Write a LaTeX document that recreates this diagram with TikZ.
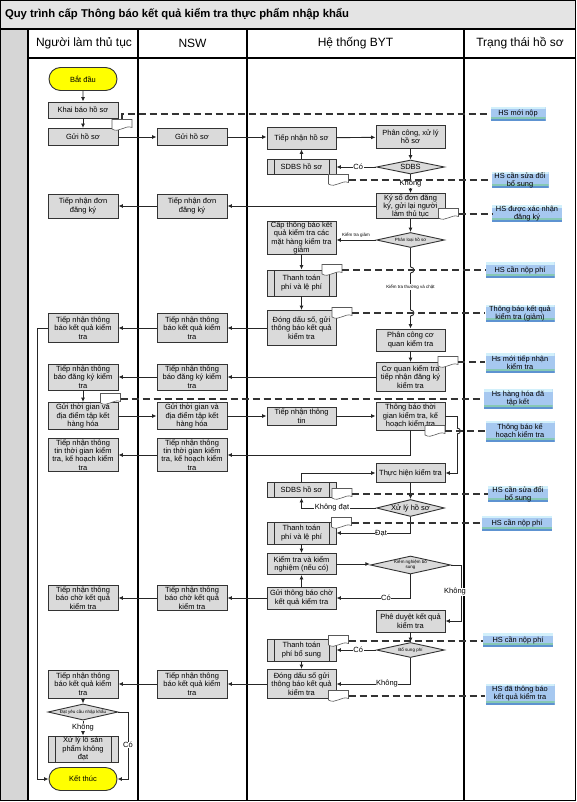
\documentclass[tikz,border=0pt]{standalone}
\usepackage{fontspec}
\setmainfont{Liberation Sans}
\usetikzlibrary{arrows.meta,shapes.geometric,shapes.misc}
\definecolor{boxgray}{HTML}{DADADA}
\definecolor{titlegray}{HTML}{E4E4E4}
\definecolor{stripgray}{HTML}{D6D6D6}
\definecolor{statblue}{HTML}{A6C8F0}
\definecolor{statlight}{HTML}{D2F0FB}
\definecolor{statteal}{HTML}{86C8B4}
\definecolor{statdark}{HTML}{5E93D1}
\definecolor{termyellow}{HTML}{FFFF00}
\newcommand\docicon[2]{%
  \node[docn] (#1) at (#2) {};
  \draw[docline] (#1.north west) -- (#1.north east) -- ([yshift=3pt]#1.south east)
    .. controls ([xshift=-7pt,yshift=6pt]#1.south east) and ([xshift=7pt,yshift=-3pt]#1.south west) .. ([yshift=1.5pt]#1.south west) -- cycle;}
\newcommand\hopv[2]{%
  \fill[white] ({#1-1.5},{#2-3}) rectangle ({#1+1.5},{#2+3});
  \draw[conn] (#1,{#2-3}) .. controls ({#1+4.5},{#2-3}) and ({#1+4.5},{#2+3}) .. (#1,{#2+3});}
\begin{document}
\begin{tikzpicture}[x=1pt,y=-1pt,
  font=\fontsize{7.5}{8.3}\selectfont,
  frame/.style={draw=black, line width=1.1pt},
  box/.style={draw=black!80, fill=boxgray, line width=0.9pt, minimum width=70pt, align=center, inner sep=0.5pt},
  bbox/.style={box, minimum width=69pt},
  pbox/.style={bbox, path picture={
     \draw[black!80, line width=0.9pt]
       ([xshift=7pt]path picture bounding box.north west) -- ([xshift=7pt]path picture bounding box.south west)
       ([xshift=-7pt]path picture bounding box.north east) -- ([xshift=-7pt]path picture bounding box.south east);}},
  dia/.style={diamond, aspect=4, draw=black!80, fill=boxgray, line width=0.9pt, inner sep=0pt, minimum width=68pt, align=center},
  term/.style={rounded rectangle, draw=black!80, fill=termyellow, line width=0.9pt, minimum width=70pt, minimum height=23pt, inner sep=1pt},
  conn/.style={draw=black!85, line width=0.9pt},
  arr/.style={conn, -{Latex[length=4.5pt,width=4pt]}},
  dsh/.style={draw=black!80, line width=1.1pt, dash pattern=on 7pt off 4pt},
  docn/.style={minimum width=20pt, minimum height=11pt, inner sep=0pt, outer sep=0pt},
  docline/.style={draw=black!65, fill=white, line width=0.6pt},
  stat/.style={fill=statblue, inner sep=0pt, align=center, font=\fontsize{7.4}{8}\selectfont,
     path picture={
       \fill[statlight] (path picture bounding box.north west) rectangle ([yshift=-2.5pt]path picture bounding box.north east);
       \fill[statteal] ([yshift=2pt]path picture bounding box.south west) rectangle ([yshift=4pt]path picture bounding box.south east);
       \fill[statdark] (path picture bounding box.south west) rectangle ([yshift=2pt]path picture bounding box.south east);}},
  lab/.style={fill=white, inner sep=0.5pt, font=\fontsize{7.5}{8}\selectfont},
  slab/.style={inner sep=0.5pt, font=\fontsize{4.5}{5}\selectfont},
  hdr/.style={font=\fontsize{12}{13}\selectfont}
]
\useasboundingbox (0,0) rectangle (576,802);
% ---------- frame ----------
\fill[titlegray] (0,0) rectangle (576,29);
\fill[stripgray] (0,29) rectangle (28,801);
\draw[frame] (0.6,0.6) rectangle (575.4,800.8);
\draw[frame] (0,29) -- (576,29);
\draw[frame] (28,58) -- (576,58);
\foreach \x in {28,138,247,464} \draw[frame] (\x,29) -- (\x,801);
\node[anchor=west, font=\bfseries\fontsize{11.3}{13}\selectfont] (title) at (1.5,14.5) {Quy trình cấp Thông báo kết quả kiểm tra thực phẩm nhập khẩu};
\node[hdr] (h1) at (84,43.5) {Người làm thủ tục};
\node[hdr] (h2) at (192.5,43.5) {NSW};
\node[hdr] (h3) at (355.5,43.5) {Hệ thống BYT};
\node[hdr] (h4) at (520,43.5) {Trạng thái hồ sơ};
% ---------- lane 1 ----------
\node[term] (start) at (83,79) {Bắt đầu};
\node[box, minimum height=16pt] (kb) at (83,110) {Khai báo hồ sơ};
\node[box, minimum height=17pt] (g1) at (83,137) {Gửi hồ sơ};
\node[box, minimum height=24pt] (t1) at (83,206) {Tiếp nhận đơn\\đăng ký};
\node[box, minimum height=29pt] (r1) at (83,328) {Tiếp nhận thông\\báo kết quả kiểm\\tra};
\node[box, minimum height=26pt] (dk1) at (83,377) {Tiếp nhận thông\\báo đăng ký kiểm\\tra};
\node[box, minimum height=27pt] (gt1) at (83,416) {Gửi thời gian và\\địa điểm tập kết\\hàng hóa};
\node[box, minimum height=33pt] (tt1) at (83,455) {Tiếp nhận thông\\tin thời gian kiểm\\tra, kế hoạch kiểm\\tra};
\node[box, minimum height=25pt] (c1) at (83,598) {Tiếp nhận thông\\báo chờ kết quả\\kiểm tra};
\node[box, minimum height=28pt] (k1) at (83,684) {Tiếp nhận thông\\báo kết quả kiểm\\tra};
\node[dia, minimum width=70pt, minimum height=14pt, font=\fontsize{4.5}{5}\selectfont] (dy) at (83,712) {Đạt yêu cầu nhập khẩu};
\node[pbox, minimum width=70pt, minimum height=26pt] (xl) at (83,749) {Xử lý lô sản\\phẩm không\\đạt};
\node[term] (end) at (83,779) {Kết thúc};
% ---------- lane 2 ----------
\node[box, minimum height=17pt] (g2) at (192,137) {Gửi hồ sơ};
\node[box, minimum height=24pt] (t2) at (192,206) {Tiếp nhận đơn\\đăng ký};
\node[box, minimum height=29pt] (r2) at (192,328) {Tiếp nhận thông\\báo kết quả kiểm\\tra};
\node[box, minimum height=26pt] (dk2) at (192,377) {Tiếp nhận thông\\báo đăng ký kiểm\\tra};
\node[box, minimum height=27pt] (gt2) at (192,416) {Gửi thời gian và\\địa điểm tập kết\\hàng hóa};
\node[box, minimum height=33pt] (tt2) at (192,455) {Tiếp nhận thông\\tin thời gian kiểm\\tra, kế hoạch kiểm\\tra};
\node[box, minimum height=25pt] (c2) at (192,598) {Tiếp nhận thông\\báo chờ kết quả\\kiểm tra};
\node[box, minimum height=28pt] (k2) at (192,684) {Tiếp nhận thông\\báo kết quả kiểm\\tra};
% ---------- lane 3 left ----------
\node[bbox, minimum height=22pt] (tn) at (301.5,138) {Tiếp nhận hồ sơ};
\node[pbox, minimum height=15pt] (sd1) at (301.5,167) {SDBS hồ sơ};
\node[bbox, minimum height=33pt] (cap) at (301.5,238) {Cấp thông báo kết\\quả kiểm tra các\\mặt hàng kiểm tra\\giảm};
\node[pbox, minimum height=26pt] (tp1) at (301.5,283) {Thanh toán\\phí và lệ phí};
\node[bbox, minimum height=35pt] (dd1) at (301.5,328) {Đóng dấu số, gửi\\thông báo kết quả\\kiểm tra};
\node[bbox, minimum height=18pt] (ti) at (301.5,416) {Tiếp nhận thông\\tin};
\node[pbox, minimum height=15pt] (sd2) at (301.5,490) {SDBS hồ sơ};
\node[pbox, minimum height=22pt] (tp2) at (301.5,533) {Thanh toán\\phí và lệ phí};
\node[bbox, minimum height=21pt] (kn) at (301.5,564) {Kiểm tra và kiểm\\nghiệm (nếu có)};
\node[bbox, minimum height=22pt] (gc) at (301.5,598) {Gửi thông báo chờ\\kết quả kiểm tra};
\node[pbox, minimum height=22pt] (tp3) at (301.5,650) {Thanh toán\\phí bổ sung};
\node[bbox, minimum height=29pt] (dd2) at (301.5,684) {Đóng dấu số gửi\\thông báo kết quả\\kiểm tra};
% ---------- lane 3 right ----------
\node[bbox, minimum height=23pt] (pc) at (410.5,137) {Phân công, xử lý\\hồ sơ};
\node[dia, minimum height=14pt] (sdbs) at (410.5,167) {SDBS};
\node[bbox, minimum height=25pt] (ks) at (410.5,206) {Ký số đơn đăng\\ký, gửi lại người\\làm thủ tục};
\node[dia, minimum height=15pt, font=\fontsize{4.5}{5}\selectfont] (pl) at (410.5,240) {Phân loại hồ sơ};
\node[bbox, minimum height=22pt] (pcq) at (410.5,340) {Phân công cơ\\quan kiểm tra};
\node[bbox, minimum height=29pt] (cq) at (410.5,377) {Cơ quan kiểm tra\\tiếp nhận đăng ký\\kiểm tra};
\node[bbox, minimum height=28pt] (tb) at (410.5,416) {Thông báo thời\\gian kiểm tra, kế\\hoạch kiểm tra};
\node[bbox, minimum height=19pt] (th) at (410.5,473) {Thực hiện kiểm tra};
\node[dia, minimum height=17pt] (xh) at (410.5,508) {Xử lý hồ sơ};
\node[dia, minimum height=18pt, aspect=5, font=\fontsize{4.5}{5}\selectfont] (kb2) at (410.5,565) {Kiểm nghiệm bổ\\sung};
\node[bbox, minimum height=22pt] (pd) at (410.5,621) {Phê duyệt kết quả\\kiểm tra};
\node[dia, minimum height=15pt, font=\fontsize{4.5}{5}\selectfont] (bs) at (410.5,650) {Bổ sung phí};
% ---------- status ----------
\node[stat, minimum width=55pt, minimum height=14pt] (s1) at (518,114) {HS mới nộp};
\node[stat, minimum width=57pt, minimum height=16pt] (s2) at (520,180) {HS cần sửa đổi\\bổ sung};
\node[stat, minimum width=70pt, minimum height=17pt] (s3) at (527,214) {HS được xác nhận\\đăng ký};
\node[stat, minimum width=69pt, minimum height=16pt] (s4) at (520,270) {HS cần nộp phí};
\node[stat, minimum width=69pt, minimum height=17pt] (s5) at (520,313) {Thông báo kết quả\\kiểm tra (giảm)};
\node[stat, minimum width=69pt, minimum height=20pt] (s6) at (520,363) {Hs mới tiếp nhận\\kiểm tra};
\node[stat, minimum width=69pt, minimum height=20pt] (s7) at (518,399) {Hs hàng hóa đã\\tập kết};
\node[stat, minimum width=69pt, minimum height=21pt] (s8) at (520,431) {Thông báo kế\\hoạch kiểm tra};
\node[stat, minimum width=60pt, minimum height=15pt] (s9) at (518,494) {HS cần sửa đổi\\bổ sung};
\node[stat, minimum width=70pt, minimum height=15pt] (s10) at (517,523) {HS cần nộp phí};
\node[stat, minimum width=70pt, minimum height=14pt] (s11) at (518,640) {HS cần nộp phí};
\node[stat, minimum width=69pt, minimum height=21pt] (s12) at (520,694) {HS đã thông báo\\kết quả kiểm tra};
% ---------- connectors ----------
\draw[arr] (start) -- (kb);
\draw[arr] (kb) -- (g1);
\draw[arr] (g1) -- (g2);
\draw[arr] (g2.east) -- (g2.east -| tn.west);
\draw[arr] (tn) -- (pc);
\draw[arr] (pc) -- (sdbs);
\draw[arr] (sdbs) -- (sd1) node[lab, pos=0.45] {Có};
\draw[arr] (sd1) -- (tn);
\draw[arr] (sdbs) -- (ks) node[lab, pos=0.5] {Không};
\draw[arr] (ks.west) -- (t2.east);
\draw[arr] (t2) -- (t1);
\draw[arr] (ks) -- (pl);
\draw[arr] (pl.west) -- (pl.west -| cap.east);
\node[slab] (lkg) at (356,235) {Kiểm tra giảm};
\draw[arr] (cap) -- (tp1);
\draw[arr] (tp1) -- (dd1);
\draw[arr] (dd1.west) -- (r2.east);
\draw[arr] (r2) -- (r1);
\draw[arr] (r1.west) -- ++(-10,0) |- (end.west);
\draw[arr] (pl) -- (pcq);
\hopv{410.5}{270}
\hopv{410.5}{313}
\node[slab, fill=white] (lkt) at (410.5,287) {Kiểm tra thường và chặt};
\draw[arr] (pcq) -- (cq);
\draw[arr] (cq.west) -- (dk2.east);
\draw[arr] (dk2) -- (dk1);
\draw[arr] (dk1) -- (gt1);
\draw[arr] (gt1) -- (gt2);
\draw[arr] (gt2) -- (ti);
\draw[arr] (ti) -- (tb);
\draw[arr] (tb.south) |- (tt2.east);
\draw[arr] (tt2) -- (tt1);
\draw[arr] (tb.east) -- ++(12,0) |- (th.east);
\hopv{457}{431}
\draw[arr] (sd2.north) |- (th.west);
\draw[arr] (th) -- (xh);
\draw[arr] (xh.west) -| (sd2.south);
\node[lab] (lkd) at (332,508) {Không đạt};
\draw[arr] (xh.south) |- (tp2.east);
\node[lab] (ld) at (381,533) {Đạt};
\draw[arr] (tp2) -- (kn);
\draw[arr] (kn.east) -- (kn.east -| kb2.west);
\draw[arr] (kb2.south) |- (gc.east);
\node[lab] (lc1) at (386,598) {Có};
\draw[arr] (gc) -- (kn);
\draw[arr] (kb2.east) -- ++(10,0) |- (pd.east);
\node[lab] (lk1) at (455,592) {Không};
\draw[arr] (gc) -- (c2);
\draw[arr] (c2) -- (c1);
\draw[arr] (pd) -- (bs);
\draw[arr] (bs) -- (tp3) node[lab, pos=0.45] {Có};
\draw[arr] (tp3) -- (dd2);
\draw[arr] (bs.south) |- (dd2.east);
\node[lab] (lk2) at (387,684) {Không};
\draw[arr] (dd2) -- (k2);
\draw[arr] (k2) -- (k1);
\draw[arr] (k1) -- (dy);
\draw[arr] (dy) -- (xl) node[lab, pos=0.45] {Không};
\draw[arr] (dy.east) -- ++(10,0) |- (end.east);
\node[lab] (lc2) at (128,745) {Có};
% ---------- document icons ----------
\docicon{d1}{122,125}
\docicon{d2}{338.5,180}
\docicon{d3}{448.5,214}
\docicon{d4}{332,270}
\docicon{d5}{342,313}
\docicon{d6}{448,362}
\docicon{d7}{110.5,399}
\docicon{d8}{435,431}
\docicon{d9}{342,494}
\docicon{d10}{341.5,523}
\docicon{d11}{338.5,641}
\docicon{d12}{338.5,696}
% ---------- dashed links ----------
\draw[dsh] (d1.north) |- (s1.west);
\draw[dsh] (d2.east) -- (d2.east -| s2.west);
\draw[dsh] (d3.east) -- (d3.east -| s3.west);
\draw[dsh] (d4.east) -- (d4.east -| s4.west);
\draw[dsh] (d5.east) -- (d5.east -| s5.west);
\draw[dsh] (d6.east) -- (d6.east -| s6.west);
\draw[dsh] (d7.east) -- (d7.east -| s7.west);
\draw[dsh] (d8.east) -- (d8.east -| s8.west);
\draw[dsh] (d9.east) -- (d9.east -| s9.west);
\draw[dsh] (d10.east) -- (d10.east -| s10.west);
\draw[dsh] (d11.east) -- (d11.east -| s11.west);
\draw[dsh] (d12.east) -- (d12.east -| s12.west);
\end{tikzpicture}
\end{document}
